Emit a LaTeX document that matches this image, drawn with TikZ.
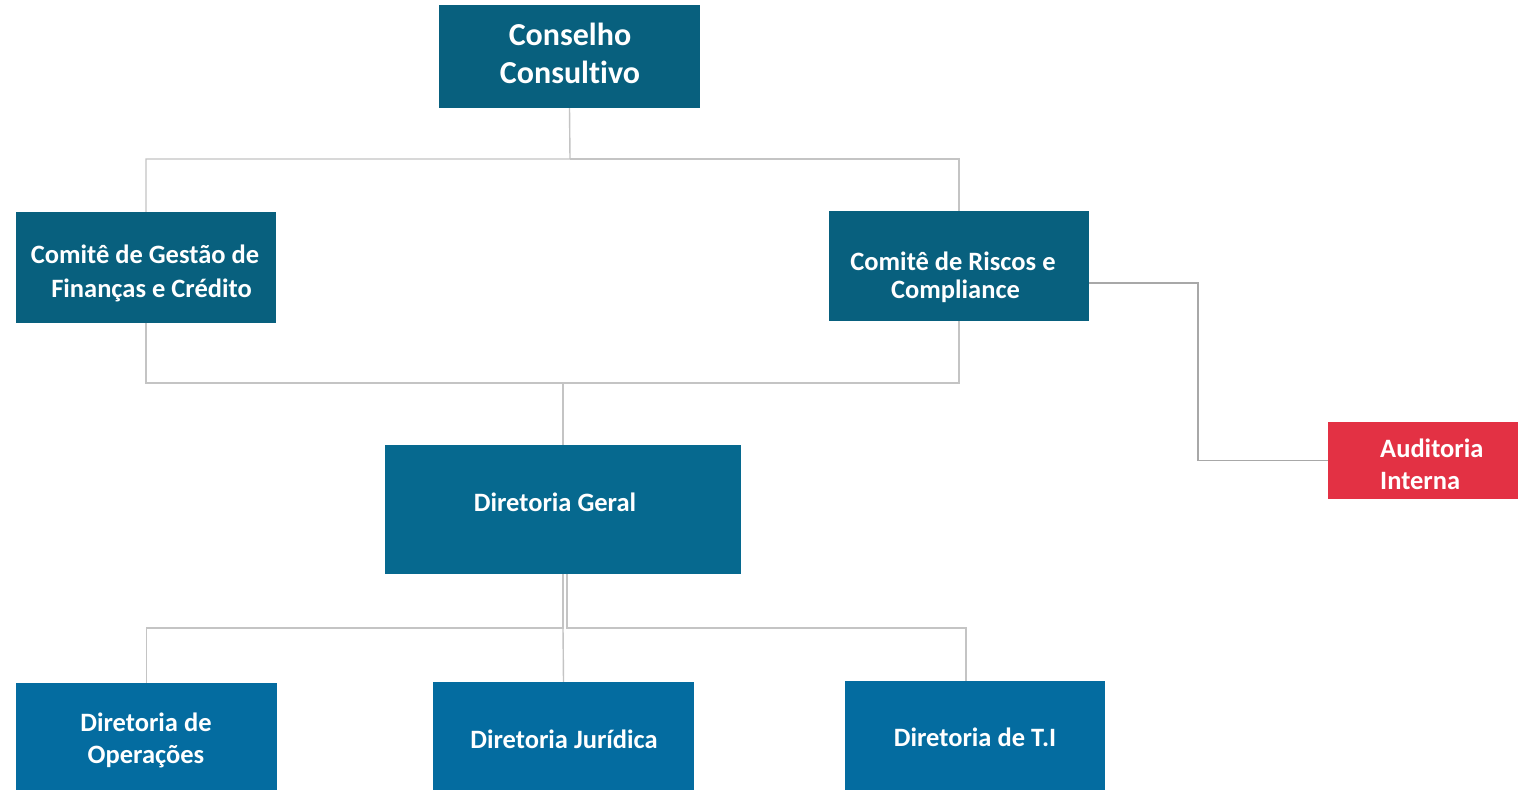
\documentclass[tikz,border=0pt]{standalone}
\usepackage{fontspec}
\setmainfont[Ligatures=NoCommon]{Carlito}
\begin{document}
\begin{tikzpicture}[x=1pt,y=-1pt,
  box/.style={draw=none,inner sep=0pt,minimum width=#1},
  txt/.style={text=white,font=\bfseries,align=center,inner sep=0pt},
  conn/.style={draw=lineg,line width=1.4pt},
  connd/.style={draw=lined,line width=1.4pt}]
\definecolor{tealc}{HTML}{08607E}
\definecolor{geralc}{HTML}{06698F}
\definecolor{botc}{HTML}{046CA0}
\definecolor{redc}{HTML}{E33144}
\definecolor{lineg}{HTML}{C4C4C4}
\definecolor{lined}{HTML}{A8A8A8}
\useasboundingbox[fill=white] (0,0) rectangle (1518,790);
% boxes
\node[box=261pt,minimum height=103pt,fill=tealc] (cc) at (569.5,56.5) {};
\node[box=260pt,minimum height=111pt,fill=tealc] (cg) at (146,267.5) {};
\node[box=260pt,minimum height=110pt,fill=tealc] (cr) at (959,266) {};
\node[box=190pt,minimum height=77pt,fill=redc] (ai) at (1423,460.5) {};
\node[box=356pt,minimum height=129pt,fill=geralc] (dg) at (563,509.5) {};
\node[box=261pt,minimum height=107pt,fill=botc] (op) at (146.5,736.5) {};
\node[box=261pt,minimum height=108pt,fill=botc] (dj) at (563.5,736) {};
\node[box=260pt,minimum height=109pt,fill=botc] (ti) at (975,735.5) {};
% texts
\node[txt,font=\bfseries\fontsize{32}{38}\selectfont] (cct) at (570,53) {Conselho\\Consultivo};
\node[txt,font=\bfseries\fontsize{26.5}{34}\selectfont] (cgt) at (145,273) {Comitê de Gestão de\\\hspace*{13pt}Finanças e Crédito};
\node[txt,font=\bfseries\fontsize{26.5}{28}\selectfont] (crt) at (953,277) {Comitê de Riscos e\\\hspace*{5pt}Compliance};
\node[txt,align=left,anchor=west,font=\bfseries\fontsize{26.5}{32}\selectfont] (ait) at (1380,464) {Auditoria\\Interna};
\node[txt,font=\bfseries\fontsize{26.5}{30}\selectfont] (dgt) at (555,502) {Diretoria Geral};
\node[txt,font=\bfseries\fontsize{26.5}{32}\selectfont] (opt) at (146,740) {Diretoria de\\Operações};
\node[txt,font=\bfseries\fontsize{26.5}{30}\selectfont] (djt) at (564,739) {Diretoria Jurídica};
\node[txt,font=\bfseries\fontsize{26.5}{30}\selectfont] (tit) at (975,737) {Diretoria de T.I};
% connectors
\draw[conn] (cc.south) -- (570,159) -| (cg.north);
\draw[conn] (570,159) -| (cr.north);
\draw[conn] (cg.south) -- (146,383) -- (959,383) -- (cr.south);
\draw[conn] (563,383) -- (dg.north);
\draw[connd] (cr.east |- 0,283) -- (1198,283) |- (ai.west);
\draw[conn] (dg.south) -- (563,628) -| (op.north);
\draw[conn] (563,628) -- (dj.north);
\draw[conn] ([xshift=4pt]dg.south) -- (567,628) -| ([xshift=-9pt]ti.north);
\end{tikzpicture}
\end{document}
